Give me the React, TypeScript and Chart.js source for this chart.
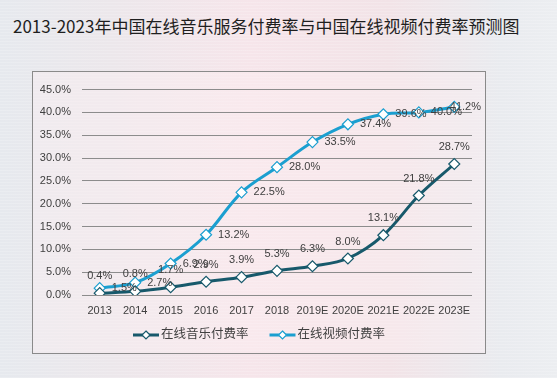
import { useEffect, useRef } from "react";
import { Chart, registerables } from "chart.js";

Chart.register(...registerables);

const categories = ["2013", "2014", "2015", "2016", "2017", "2018", "2019E", "2020E", "2021E", "2022E", "2023E"];
const musicRates = [0.4, 0.8, 1.7, 2.9, 3.9, 5.3, 6.3, 8.0, 13.1, 21.8, 28.7];
const videoRates = [1.5, 2.7, 6.9, 13.2, 22.5, 28.0, 33.5, 37.4, 39.6, 40.0, 41.2];
const seriesNames = ["在线音乐付费率", "在线视频付费率"];
const yMax = 45;
const yStep = 5;

const MUSIC_COLOR = "#17596b";
const VIDEO_COLOR = "#1b9fd0";
const TEXT_COLOR = "#404040";
const FONT = "'Liberation Sans', Arial, 'Noto Sans CJK SC', sans-serif";

function drawDiamond(ctx: CanvasRenderingContext2D, x: number, y: number, r: number, color: string) {
  ctx.fillStyle = "#ffffff";
  ctx.strokeStyle = color;
  ctx.lineWidth = 1.2;
  ctx.beginPath();
  ctx.moveTo(x, y - r);
  ctx.lineTo(x + r, y);
  ctx.lineTo(x, y + r);
  ctx.lineTo(x - r, y);
  ctx.closePath();
  ctx.fill();
  ctx.stroke();
}

const dataLabelPlugin = {
  id: "dataLabels",
  afterDatasetsDraw(chart: any) {
    const ctx = chart.ctx;
    ctx.save();
    ctx.font = `11px ${FONT}`;
    ctx.fillStyle = TEXT_COLOR;
    chart.data.datasets.forEach((ds: any, di: number) => {
      const meta = chart.getDatasetMeta(di);
      meta.data.forEach((pt: any, i: number) => {
        const text = ds.data[i].toFixed(1) + "%";
        ctx.textBaseline = "middle";
        if (di === 0) {
          ctx.textAlign = "center";
          ctx.fillText(text, pt.x, pt.y - 17);
        } else {
          ctx.textAlign = "left";
          const w = ctx.measureText(text).width;
          const x = Math.min(pt.x + 12, chart.width - 4 - w);
          ctx.fillText(text, x, pt.y);
        }
      });
    });
    ctx.restore();
  },
};

const lineLegendPlugin = {
  id: "lineLegend",
  afterDraw(chart: any) {
    const ctx = chart.ctx;
    ctx.save();
    ctx.font = `12.5px ${FONT}`;
    const lineLen = 26;
    const textGap = 2;
    const itemGap = 21;
    const items = chart.data.datasets.map((ds: any) => ({
      text: ds.label,
      color: ds.borderColor,
      w: ctx.measureText(ds.label).width,
    }));
    const total =
      items.reduce((s: number, it: any) => s + lineLen + textGap + it.w, 0) + itemGap * (items.length - 1);
    let x = (chart.width - total) / 2;
    const y = chart.chartArea.bottom + 40;
    items.forEach((it: any) => {
      ctx.strokeStyle = it.color;
      ctx.lineWidth = 3;
      ctx.beginPath();
      ctx.moveTo(x, y);
      ctx.lineTo(x + lineLen, y);
      ctx.stroke();
      drawDiamond(ctx, x + lineLen / 2, y, 4, it.color);
      ctx.fillStyle = TEXT_COLOR;
      ctx.textAlign = "left";
      ctx.textBaseline = "middle";
      ctx.fillText(it.text, x + lineLen + textGap, y);
      x += lineLen + textGap + it.w + itemGap;
    });
    ctx.restore();
  },
};

export default function App() {
  const ref = useRef<HTMLCanvasElement>(null);

  useEffect(() => {
    const canvas = ref.current!;
    const colors = [MUSIC_COLOR, VIDEO_COLOR];
    const chart = new Chart(canvas, {
      type: "line",
      data: {
        labels: categories,
        datasets: [musicRates, videoRates].map((d, i) => ({
          label: seriesNames[i],
          data: d,
          borderColor: colors[i],
          backgroundColor: "#ffffff",
          borderWidth: 3,
          tension: 0.35,
          pointStyle: "rectRot" as const,
          pointRadius: 5.5,
          pointBorderWidth: 1.2,
          pointBorderColor: colors[i],
          pointBackgroundColor: "#ffffff",
        })),
      },
      options: {
        responsive: false,
        animation: false,
        layout: { padding: { top: 13, right: 13, left: 0, bottom: 30 } },
        plugins: {
          title: { display: false },
          tooltip: { enabled: false },
          legend: { display: false },
        },
        scales: {
          x: {
            offset: true,
            grid: { display: false, drawTicks: false, offset: true },
            border: { display: false },
            ticks: { color: TEXT_COLOR, font: { size: 11, family: FONT }, padding: 9, maxRotation: 0, autoSkip: false },
            afterFit: (s: any) => {
              s.height = 28;
            },
          },
          y: {
            min: 0,
            max: yMax,
            grid: { color: "#8c8c8c", lineWidth: 1, drawTicks: false },
            border: { display: false },
            ticks: {
              stepSize: yStep,
              color: TEXT_COLOR,
              font: { size: 11, family: FONT },
              padding: 11,
              callback: (v: any) => Number(v).toFixed(1) + "%",
            },
            afterFit: (s: any) => {
              s.width = 49;
            },
          },
        },
      },
      plugins: [dataLabelPlugin, lineLegendPlugin],
    });
    return () => chart.destroy();
  }, []);

  return (
    <div
      style={{
        position: "fixed",
        left: 0,
        top: 0,
        width: 557,
        height: 378,
        overflow: "hidden",
        background:
          "linear-gradient(90deg, #e6e9ee 0%, #ece7eb 20%, #f6e5ea 45%, #f2e3e7 70%, #e9ebef 90%, #eceef1 100%)",
      }}
    >
      <div
        style={{
          position: "absolute",
          inset: 0,
          background:
            "repeating-linear-gradient(0deg, rgba(255,255,255,0.18) 0px, rgba(255,255,255,0.18) 1px, rgba(0,0,0,0) 1px, rgba(0,0,0,0) 3px)",
        }}
      />
      <div
        style={{
          position: "absolute",
          left: 13,
          top: 14,
          fontFamily: "'Noto Sans CJK SC', sans-serif",
          fontSize: 17,
          lineHeight: "24px",
          color: "#1f1f1f",
          whiteSpace: "nowrap",
        }}
      >
        2013-2023年中国在线音乐服务付费率与中国在线视频付费率预测图
      </div>
      <div
        style={{
          position: "absolute",
          left: 32,
          top: 71,
          width: 454,
          height: 283,
          boxSizing: "border-box",
          border: "1px solid #8a8a8a",
          background: "rgba(255,240,244,0.35)",
        }}
      >
        <canvas ref={ref} width={452} height={281} style={{ display: "block" }} />
      </div>
    </div>
  );
}
